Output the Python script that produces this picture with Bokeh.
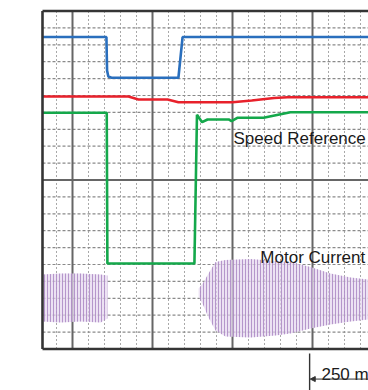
import numpy as np
from bokeh.plotting import figure
from bokeh.models import Range1d, Arrow, NormalHead
from bokeh.core.properties import value
from bokeh.embed import file_html
from bokeh.resources import INLINE

# ---- data: time in ms, amplitude in screen divisions ----
speed_t = [6, 206, 208, 212, 222, 431, 444, 1025]
speed_y = [8.46, 8.46, 6.48, 6.12, 6.05, 6.05, 8.46, 8.46]

ref_t = [6, 275, 306, 397, 431, 600, 660, 730, 772, 1025]
ref_y = [4.94, 4.94, 4.76, 4.76, 4.60, 4.60, 4.70, 4.85, 4.90, 4.90]

fb_t = [6, 207, 209, 481, 489, 505, 522, 588, 597, 615, 697, 781, 1025]
fb_y = [3.98, 3.98, -4.94, -4.94, 3.86, 3.42, 3.58, 3.58, 3.48, 3.68, 3.68, 4.01, 4.01]

# motor current envelopes (two bursts)
cur1_t = [6, 63, 125, 188, 209]
cur1_hi = [-5.59, -5.53, -5.53, -5.59, -5.65]
cur1_lo = [-8.37, -8.43, -8.37, -8.43, -8.20]
cur2_t = [494, 509, 525, 547, 578, 656, 734, 781, 844, 906, 969, 1025]
cur2_hi = [-6.42, -6.07, -5.53, -4.85, -4.73, -4.67, -4.79, -4.85, -5.15, -5.53, -5.77, -5.89]
cur2_lo = [-6.89, -7.43, -8.14, -8.91, -9.26, -9.32, -9.20, -9.08, -8.79, -8.55, -8.37, -8.25]

labels = ["Speed Reference", "Motor Current"]
label_t = [603, 687]
label_y = [2.46, -4.57]

scale_text = "250 m"
scale_t0 = 841
scale_t1 = 1025
scale_text_t = 878
scale_text_y = -11.51
scale_bar_y = -11.78

# graticule
x_div = 50          # ms per minor division
x_major = [100, 350, 600, 850]
frame_x0, frame_x1 = 6.25, 1025
frame_y0, frame_y1 = -10, 10

p = figure(width=368, height=390,
           x_range=Range1d(-125, 1025), y_range=Range1d(-12.456, 10.621),
           output_backend="svg", toolbar_location=None,
           x_axis_location=None, y_axis_location=None,
           min_border=0, outline_line_color=None)
p.grid.visible = False
p.background_fill_color = "white"
p.border_fill_color = "white"

x_minor = [x for x in np.arange(x_div, 1001, x_div) if x not in x_major]
y_minor = [y for y in range(-9, 10) if y != 0]

p.segment(x0=x_minor, y0=frame_y0, x1=x_minor, y1=frame_y1,
          line_color="#a8a8a8", line_width=1, line_dash="2 2")
p.segment(x0=frame_x0, y0=y_minor, x1=frame_x1, y1=y_minor,
          line_color="#8a8a8a", line_width=1.2, line_dash="3 2")
p.segment(x0=x_major, y0=frame_y0, x1=x_major, y1=frame_y1,
          line_color="#666666", line_width=2)
p.segment(x0=[frame_x0], y0=[0], x1=[frame_x1], y1=[0],
          line_color="#666666", line_width=2.2)

# motor current bursts
for t, lo, hi in [(cur1_t, cur1_lo, cur1_hi), (cur2_t, cur2_lo, cur2_hi)]:
    p.varea(x=t, y1=lo, y2=hi, fill_color="#e4d6ee", fill_alpha=0.7,
            hatch_pattern="|", hatch_color="#a783c0", hatch_scale=3,
            hatch_weight=1, hatch_alpha=0.8)

p.line(speed_t, speed_y, line_color="#2a6fbd", line_width=2.6)
p.line(ref_t, ref_y, line_color="#e8212b", line_width=2.6)
p.line(fb_t, fb_y, line_color="#14a84b", line_width=2.6)

# frame
p.segment(x0=[frame_x0, frame_x0, frame_x0], y0=[frame_y0, frame_y1, frame_y0],
          x1=[frame_x0, frame_x1, frame_x1], y1=[frame_y1, frame_y1, frame_y0],
          line_color="#353535", line_width=2.6)

p.text(x=label_t, y=label_y, text=labels, text_font=value("Liberation Sans"),
       text_font_size="17px", text_baseline="alphabetic", text_color="#1a1a1a")

# time scale bar
p.segment(x0=[scale_t0], y0=[-10.27], x1=[scale_t0], y1=[-12.456],
          line_color="#333333", line_width=1.4)
p.add_layout(Arrow(end=NormalHead(size=5, fill_color="#333333", line_color="#333333"),
                   x_start=scale_t1, y_start=scale_bar_y, x_end=scale_t0 + 2, y_end=scale_bar_y,
                   line_color="#333333", line_width=1))
p.text(x=[scale_text_t], y=[scale_text_y], text=[scale_text], text_font=value("Liberation Sans"),
       text_font_size="17px", text_baseline="alphabetic", text_color="#1a1a1a")

open("out.html", "w").write(file_html(p, INLINE))
